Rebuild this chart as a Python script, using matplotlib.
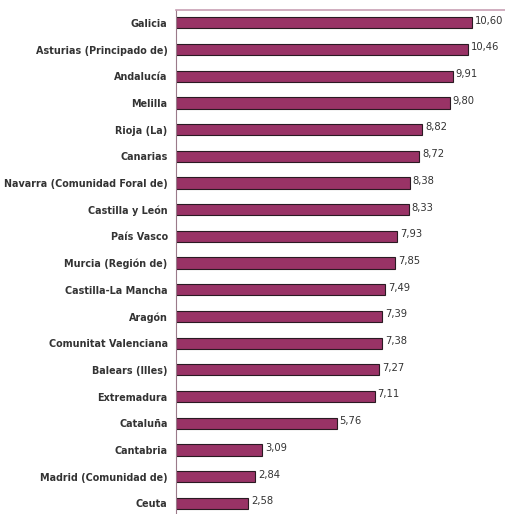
import matplotlib.pyplot as plt

regions = ["Galicia", "Asturias (Principado de)", "Andalucía", "Melilla", "Rioja (La)",
           "Canarias", "Navarra (Comunidad Foral de)", "Castilla y León", "País Vasco",
           "Murcia (Región de)", "Castilla-La Mancha", "Aragón", "Comunitat Valenciana",
           "Balears (Illes)", "Extremadura", "Cataluña", "Cantabria",
           "Madrid (Comunidad de)", "Ceuta"]
values = [10.60, 10.46, 9.91, 9.80, 8.82, 8.72, 8.38, 8.33, 7.93, 7.85, 7.49,
          7.39, 7.38, 7.27, 7.11, 5.76, 3.09, 2.84, 2.58]

fig = plt.figure(figsize=(5.06, 5.14), dpi=100)
ax = fig.add_axes([176 / 506, -2.7 / 514, 1 - 176 / 506 + 0.01, 1 - 9.5 / 514 + 2.7 / 514])

y = list(range(len(regions)))
ax.barh(y, values, height=0.42, color="#993366", edgecolor="#2a1a22", linewidth=0.8)

# value labels with comma decimal
for yi, v in zip(y, values):
    ax.text(v + 0.1, yi - 0.08, f"{v:.2f}".replace(".", ","), va="center", ha="left",
            fontsize=7.2, color="#333333")

ax.set_xlim(0, 12)
ax.set_ylim(len(regions) - 0.5, -0.5)
ax.set_yticks(y)
ax.set_yticklabels(regions, fontsize=6.9, fontweight="bold", color="#333333")
ax.tick_params(axis="y", length=0, pad=6)
ax.set_xticks([])

for side in ["right", "bottom"]:
    ax.spines[side].set_visible(False)
ax.spines["top"].set_color("#c8a0b4")
ax.spines["top"].set_linewidth(1.2)
ax.spines["left"].set_color("#9a7a8a")
ax.spines["left"].set_linewidth(0.8)

fig.savefig("out.png", dpi=100)
